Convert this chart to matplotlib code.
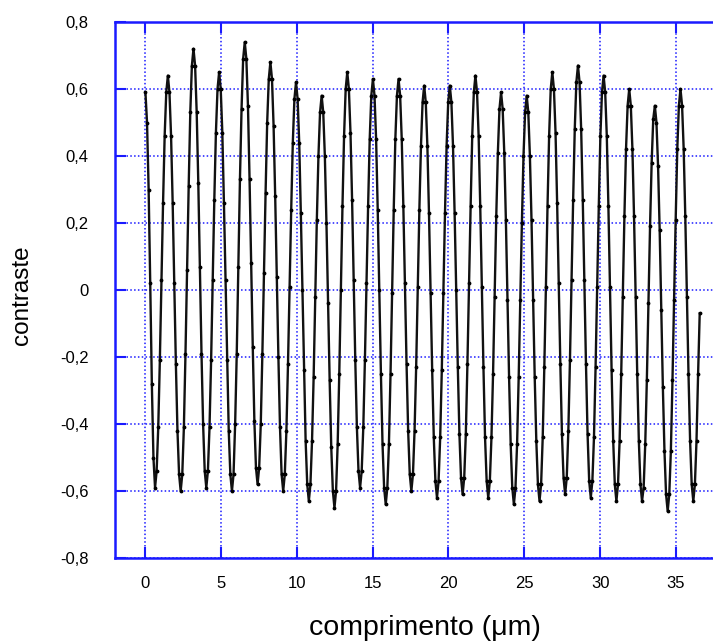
import matplotlib
matplotlib.use("Agg")
import matplotlib.pyplot as plt
import numpy as np

plt.rcParams['font.family'] = ['Liberation Sans', 'DejaVu Sans']

# contraste, one sample every 0.1056 um starting at 0.026 um
contraste = [
    0.59, 0.50, 0.30, 0.02, -0.28, -0.50, -0.59,
    -0.54, -0.41, -0.21, 0.03, 0.26, 0.46, 0.59, 0.64,
    0.59, 0.46, 0.26, 0.02, -0.22, -0.42, -0.55, -0.60,
    -0.55, -0.41, -0.19, 0.06, 0.31, 0.53, 0.67, 0.72,
    0.67, 0.53, 0.32, 0.07, -0.19, -0.40, -0.54, -0.59,
    -0.54, -0.41, -0.21, 0.03, 0.27, 0.47, 0.60, 0.65,
    0.60, 0.47, 0.26, 0.03, -0.21, -0.42, -0.55, -0.60,
    -0.55, -0.40, -0.19, 0.07, 0.33, 0.54, 0.69, 0.74,
    0.69, 0.55, 0.33, 0.08, -0.17, -0.39, -0.53, -0.58,
    -0.53, -0.40, -0.19, 0.05, 0.29, 0.50, 0.63, 0.68,
    0.63, 0.49, 0.28, 0.04, -0.20, -0.41, -0.55, -0.60,
    -0.55, -0.42, -0.22, 0.01, 0.24, 0.44, 0.57, 0.62,
    0.57, 0.44, 0.23, 0.00, -0.24, -0.45, -0.58, -0.63,
    -0.58, -0.45, -0.26, -0.02, 0.21, 0.40, 0.53, 0.58,
    0.53, 0.40, 0.20, -0.04, -0.27, -0.47, -0.60, -0.65,
    -0.60, -0.46, -0.25, 0.00, 0.25, 0.46, 0.60, 0.65,
    0.60, 0.47, 0.27, 0.03, -0.21, -0.41, -0.54, -0.59,
    -0.54, -0.41, -0.21, 0.02, 0.25, 0.45, 0.58, 0.63,
    0.58, 0.45, 0.24, 0.00, -0.25, -0.46, -0.59, -0.64,
    -0.59, -0.46, -0.25, -0.01, 0.24, 0.45, 0.58, 0.63,
    0.58, 0.45, 0.25, 0.02, -0.22, -0.42, -0.55, -0.60,
    -0.55, -0.42, -0.23, 0.01, 0.24, 0.43, 0.56, 0.61,
    0.56, 0.43, 0.23, -0.01, -0.24, -0.44, -0.57, -0.62,
    -0.57, -0.44, -0.24, -0.01, 0.23, 0.43, 0.56, 0.61,
    0.56, 0.43, 0.23, 0.00, -0.23, -0.43, -0.56, -0.61,
    -0.56, -0.43, -0.22, 0.02, 0.25, 0.46, 0.59, 0.64,
    0.59, 0.46, 0.25, 0.01, -0.23, -0.44, -0.57, -0.62,
    -0.57, -0.44, -0.25, -0.02, 0.22, 0.41, 0.54, 0.59,
    0.54, 0.41, 0.21, -0.03, -0.26, -0.46, -0.59, -0.64,
    -0.59, -0.46, -0.26, -0.03, 0.20, 0.40, 0.53, 0.58,
    0.53, 0.40, 0.21, -0.03, -0.26, -0.45, -0.58, -0.63,
    -0.58, -0.44, -0.23, 0.01, 0.25, 0.46, 0.60, 0.65,
    0.60, 0.47, 0.26, 0.02, -0.22, -0.43, -0.56, -0.61,
    -0.56, -0.42, -0.21, 0.03, 0.27, 0.48, 0.62, 0.67,
    0.62, 0.48, 0.27, 0.03, -0.22, -0.43, -0.57, -0.62,
    -0.57, -0.44, -0.23, 0.01, 0.25, 0.46, 0.59, 0.64,
    0.59, 0.46, 0.25, 0.01, -0.24, -0.45, -0.58, -0.63,
    -0.58, -0.45, -0.25, -0.02, 0.22, 0.42, 0.55, 0.60,
    0.55, 0.42, 0.22, -0.02, -0.25, -0.45, -0.58, -0.63,
    -0.59, -0.46, -0.27, -0.04, 0.19, 0.38, 0.51, 0.55,
    0.50, 0.37, 0.18, -0.06, -0.29, -0.48, -0.61, -0.66,
    -0.61, -0.48, -0.27, -0.03, 0.21, 0.42, 0.55, 0.60,
    0.55, 0.42, 0.22, -0.02, -0.25, -0.45, -0.58, -0.63,
    -0.58, -0.45, -0.25, -0.07,
]
x0 = 0.026
dx = 0.1056
x_ticks = [0, 5, 10, 15, 20, 25, 30, 35]
y_ticks = [-0.8, -0.6, -0.4, -0.2, 0, 0.2, 0.4, 0.6, 0.8]
y_labels = ['-0,8', '-0,6', '-0,4', '-0,2', '0', '0,2', '0,4', '0,6', '0,8']

comprimento = x0 + dx * np.arange(len(contraste))
blue = '#1a1aff'

fig = plt.figure(figsize=(7.13, 6.41), dpi=100)
ax = fig.add_axes([115 / 713, 1 - 558 / 641, 598 / 713, 536 / 641])

ax.plot(comprimento, contraste, color='#111111', lw=1.7,
        marker='.', ms=3.5, mfc='black', mec='black')

ax.set_xlim(-1.98, 37.44)
ax.set_ylim(-0.8, 0.8)
ax.set_xticks(x_ticks)
ax.set_yticks(y_ticks)
ax.set_yticklabels(y_labels)

ax.grid(True, color=blue, ls=(0, (1, 1.5)), lw=1.1)
ax.set_axisbelow(True)
for side in ['left', 'top', 'bottom']:
    ax.spines[side].set_color(blue)
    ax.spines[side].set_linewidth(1.8)
ax.spines['right'].set_visible(False)

ax.tick_params(axis='both', direction='in', length=8, width=1.5,
               color=blue, labelcolor='black', labelsize=12)
ax.tick_params(axis='x', top=True, pad=13)
ax.tick_params(axis='y', pad=19)

ax.set_xlabel('comprimento (\u03bcm)', fontsize=20.5, va='center')
ax.xaxis.set_label_coords(0.518, -0.13)
ax.set_ylabel('contraste', fontsize=17.5)
ax.yaxis.set_label_coords(-0.137, 0.49)

fig.savefig('out.png', dpi=100)
